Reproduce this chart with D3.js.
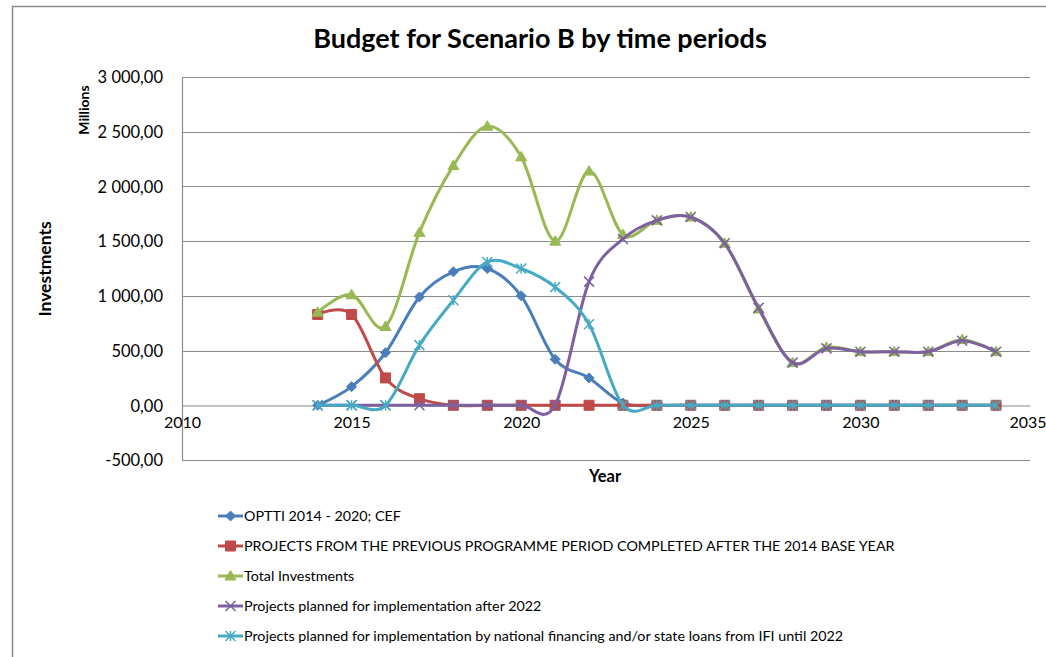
<!DOCTYPE html>
<html><head><meta charset="utf-8">
<script src="https://cdn.jsdelivr.net/npm/d3@7"></script>
<style>body{margin:0;background:#fff}svg{display:block}text{font-family:Lato,"Open Sans",sans-serif;fill:#000}</style>
</head><body><svg id="c" width="1046" height="657"></svg>
<script>
const years = d3.range(2014, 2035);
const opttiValues   = [0,170,480,990,1220,1250,1000,420,250,20,0,0,0,0,0,0,0,0,0,0,0];
const previousValues= [830,830,250,60,0,0,0,0,0,0,0,0,0,0,0,0,0,0,0,0,0];
const totalValues   = [850,1010,720,1580,2190,2550,2270,1500,2140,1560,1690,1720,1480,880,390,530,490,490,490,600,490];
const after2022Values=[0,0,0,0,0,0,0,0,1130,1520,1690,1720,1480,890,390,520,490,490,490,590,490];
const nationalValues= [0,0,0,550,960,1310,1250,1080,740,0,0,0,0,0,0,0,0,0,0,0,0];
const seriesNames = ["OPTTI 2014 - 2020; CEF","PROJECTS FROM THE PREVIOUS PROGRAMME PERIOD COMPLETED AFTER THE 2014 BASE YEAR","Total Investments","Projects planned for implementation after 2022"," Projects planned for implementation by national financing and/or state loans from IFI until 2022"];
const xTicks = [2010,2015,2020,2025,2030,2035];
const yTicks = [-500,0,500,1000,1500,2000,2500,3000];

const colors = ["#4A7EBB","#BE4B48","#98B954","#7D60A0","#46AAC5"];
const markers = ["diamond","square","triangle","x","star"];
const allValues=[opttiValues,previousValues,totalValues,after2022Values,nationalValues];
const series = seriesNames.map((n,i)=>({name:n,color:colors[i],marker:markers[i],values:allValues[i]}));

const svg = d3.select("#c");
svg.append("rect").attr("x",12.5).attr("y",6.5).attr("width",1100).attr("height",700).attr("fill","#fff").attr("stroke","#8c8c8c").attr("stroke-width",1.5);

const x = d3.scaleLinear().domain([2010,2035]).range([182,1030]);
const y = d3.scaleLinear().domain([-500,3000]).range([460,77]);

svg.append("g").selectAll("line").data(yTicks.filter(v=>v!==0)).join("line")
  .attr("x1",x(2010)).attr("x2",x(2035)).attr("y1",d=>Math.round(y(d))+0.5).attr("y2",d=>Math.round(y(d))+0.5)
  .attr("stroke","#8a8a8a").attr("stroke-width",1.2);
const yAxis = d3.axisLeft(y).tickValues(yTicks).tickSize(0).tickPadding(19)
  .tickFormat(d=>{const s=d3.format(",.2f")(d);return s.replace(/,/g," ").replace(".",",").replace("−","-");});
const gy = svg.append("g").attr("transform",`translate(${x(2010)},0)`).call(yAxis);
gy.select(".domain").attr("stroke","#8a8a8a").attr("stroke-width",1.2);
gy.selectAll("text").style("font-size","16.5px").attr("dy","0.35em");
const xAxis = d3.axisBottom(x).tickValues(xTicks).tickSize(0).tickPadding(11).tickFormat(d3.format("d"));
const gx = svg.append("g").attr("transform",`translate(0,${Math.round(y(0))+0.5})`).call(xAxis);
gx.select(".domain").attr("stroke","#8a8a8a").attr("stroke-width",1.2);
gx.selectAll("text").style("font-size","16px").attr("text-anchor",d=>d===2035?"end":"middle").attr("x",d=>d===2035?16:0);

svg.append("text").attr("x",540).attr("y",48).attr("text-anchor","middle").style("font-size","27px").style("font-weight","bold").text("Budget for Scenario B by time periods");
svg.append("text").attr("transform","translate(89,110) rotate(-90)").attr("text-anchor","middle").style("font-size","14px").style("font-weight","bold").text("Millions");
svg.append("text").attr("transform","translate(51,269) rotate(-90)").attr("text-anchor","middle").style("font-size","17.5px").style("font-weight","bold").text("Investments");
svg.append("text").attr("x",605).attr("y",482).attr("text-anchor","middle").style("font-size","16.5px").style("font-weight","bold").text("Year");

function markerPath(type){
  const s=5;
  switch(type){
    case "diamond": return `M0,${-s}L${s},0L0,${s}L${-s},0Z`;
    case "square": return `M${-s},${-s}H${s}V${s}H${-s}Z`;
    case "triangle": return `M0,${-s-0.5}L${s+0.5},${s*0.8}L${-s-0.5},${s*0.8}Z`;
    case "x": return `M${-s},${-s}L${s},${s}M${s},${-s}L${-s},${s}`;
    case "star": return `M${-s},${-s}L${s},${s}M${s},${-s}L${-s},${s}M0,${-s}V${s}`;
  }
}
function drawMarker(g,type,color,cx,cy){
  const filled = ["diamond","square","triangle"].includes(type);
  g.append("path").attr("d",markerPath(type)).attr("transform",`translate(${cx},${cy})`)
   .attr("fill",filled?color:"none").attr("stroke",color).attr("stroke-width",filled?1:1.5);
}

const line = d3.line().x(d=>x(d[0])).y(d=>y(d[1])).curve(d3.curveCardinal.tension(0));
const plot = svg.append("g");
series.forEach(s=>{
  const g = plot.append("g");
  const pts = years.map((yr,i)=>[yr,s.values[i]]);
  g.append("path").attr("d",line(pts)).attr("fill","none").attr("stroke",s.color).attr("stroke-width",3).attr("stroke-linejoin","round");
  pts.forEach(p=>drawMarker(g,s.marker,s.color,x(p[0]),y(p[1])));
});

const lg = svg.append("g");
series.forEach((s,i)=>{
  const ly = 516 + i*30;
  const g = lg.append("g");
  g.append("line").attr("x1",218).attr("x2",243).attr("y1",ly).attr("y2",ly).attr("stroke",s.color).attr("stroke-width",3);
  drawMarker(g,s.marker,s.color,230.5,ly);
  g.append("text").attr("x",244).attr("y",ly).attr("dy","0.35em").style("font-size","14.3px").text(s.name);
});
</script></body></html>
